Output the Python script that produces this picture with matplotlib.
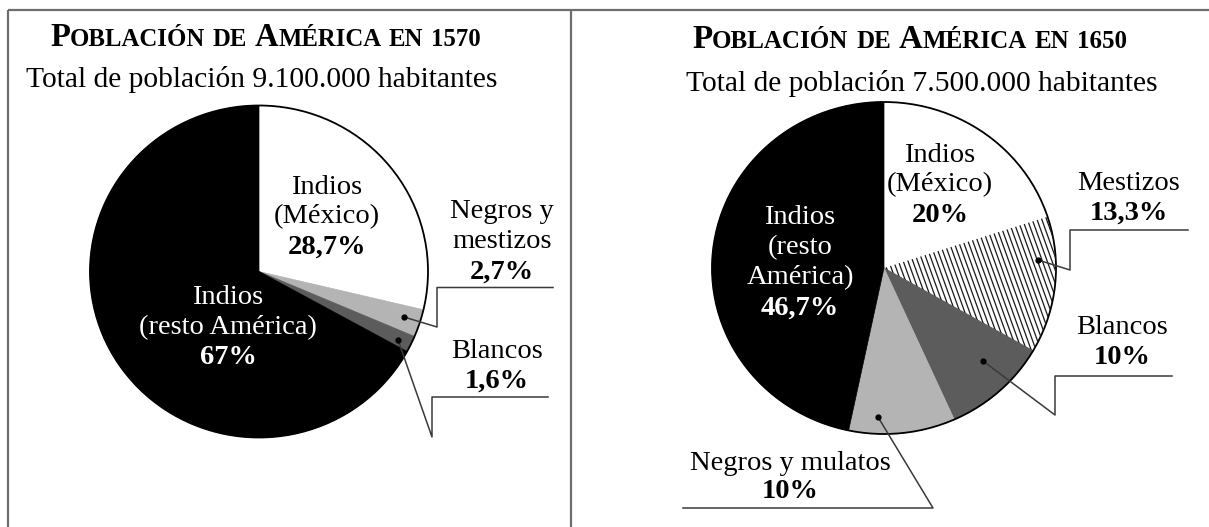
import numpy as np
import matplotlib
matplotlib.use("Agg")
import matplotlib.pyplot as plt
from matplotlib.patches import Ellipse

# Data
labels_1570 = ["Indios (México)", "Negros y mestizos", "Blancos", "Indios (resto América)"]
values_1570 = [28.7, 2.7, 1.6, 67.0]
lines_1570 = [["Indios", "(México)"], ["Negros y", "mestizos"], ["Blancos"], ["Indios", "(resto América)"]]
total_1570 = "9.100.000"

labels_1650 = ["Indios (México)", "Mestizos", "Blancos", "Negros y mulatos", "Indios (resto América)"]
values_1650 = [20.0, 13.3, 10.0, 10.0, 46.7]
lines_1650 = [["Indios", "(México)"], ["Mestizos"], ["Blancos"], ["Negros y mulatos"], ["Indios", "(resto", "América)"]]
total_1650 = "7.500.000"

W, H = 1209, 527
SERIF = "Liberation Serif"

fig = plt.figure(figsize=(W / 100, H / 100), dpi=100)
fig.patch.set_facecolor("white")


def pct(v):
    return f"{v:g}".replace(".", ",") + "%"


def draw_pie(cx, cy, rx, ry, values, colors):
    ax = fig.add_axes([(cx - rx) / W, 1 - (cy + ry) / H, 2 * rx / W, 2 * ry / H])
    wedges, _ = ax.pie(values, colors=colors, startangle=90, counterclock=False,
                       radius=1, wedgeprops=dict(linewidth=0))
    for w in wedges:
        w.set_edgecolor(w.get_facecolor())
        w.set_linewidth(0.5)
    ax.set_aspect("auto")
    ax.set_xlim(-1, 1)
    ax.set_ylim(-1, 1)
    ax.axis("off")
    ax.add_patch(Ellipse((0, 0), 2, 2, fill=False, lw=1.3, ec="black", clip_on=False))
    return ax, wedges


# pies
ax1, w1 = draw_pie(259, 271.5, 169, 166, values_1570, ["white", "#b4b4b4", "#5c5c5c", "black"])
ax2, w2 = draw_pie(884, 268, 172, 166, values_1650, ["white", "white", "#5c5c5c", "#b4b4b4", "black"])

# overlay in pixel coordinates
ov = fig.add_axes([0, 0, 1, 1])
ov.set_xlim(0, W)
ov.set_ylim(H, 0)
ov.axis("off")
ov.patch.set_alpha(0)

renderer = fig.canvas.get_renderer()

# hatching of the Mestizos slice
for x0 in np.arange(640, 1200, 4.8):
    ln, = ov.plot([x0, x0 + 0.36 * 360], [90, 450], color="#1a1a1a", lw=0.9)
    ln.set_clip_path(w2[1])

# frame lines
ov.plot([8, W], [10, 10], color="#6e6e6e", lw=1.6, solid_capstyle="butt")
ov.plot([8, 8], [10, H], color="#6e6e6e", lw=1.6, solid_capstyle="butt")
ov.plot([571, 571], [10, H], color="#6e6e6e", lw=1.6, solid_capstyle="butt")


def fit_text(x0, x1, y, s, **kw):
    t = ov.text(x0, y, s, fontsize=16, ha="left", va="baseline", family=SERIF, **kw)
    w = t.get_window_extent(renderer).width
    t.set_fontsize(16 * (x1 - x0) / w)
    return t


def caps_title(x0, x1, y, words):
    def draw(size):
        arts = []
        x = x0
        for word in words:
            for s, big in word:
                t = ov.text(x, y, s, fontsize=size * (1.0 if big else 0.76),
                            fontweight="bold", family=SERIF, ha="left", va="baseline")
                x += t.get_window_extent(renderer).width
                arts.append(t)
            x += size * 0.32
        return arts, x - size * 0.32 - x0
    arts, w = draw(18)
    for a in arts:
        a.remove()
    draw(18 * (x1 - x0) / w)


def title_words(year):
    return [[("P", True), ("OBLACIÓN", False)], [("DE", False)],
            [("A", True), ("MÉRICA", False)], [("EN", False)], [(year, False)]]


caps_title(50, 480, 46, title_words("1570"))
fit_text(26, 498, 87, f"Total de población {total_1570} habitantes")
caps_title(692, 1126, 48, title_words("1650"))
fit_text(686, 1158, 91, f"Total de población {total_1650} habitantes")


def put_label(x, ys, lines, value, color="black", size=20.5):
    for s, y in zip(lines, ys[:-1]):
        ov.text(x, y, s, ha="center", va="center", family=SERIF, fontsize=size, color=color)
    ov.text(x, ys[-1], pct(value), ha="center", va="center", family=SERIF,
            fontsize=size, fontweight="bold", color=color)


def leader(points, dot):
    xs, ys = zip(*points)
    ov.plot(xs, ys, color="#3a3a3a", lw=1.1)
    ov.plot([dot[0]], [dot[1]], "o", color="black", ms=3.5)


# labels 1570
put_label(327, [187, 217, 247], lines_1570[0], values_1570[0])
put_label(502, [212, 242, 272], lines_1570[1], values_1570[1])
put_label(497, [352, 381], lines_1570[2], values_1570[2])
put_label(228, [298, 328, 358], lines_1570[3], values_1570[3], color="white")
leader([(553, 287.5), (437, 287.5), (437, 327), (404, 317)], (404, 317))
leader([(548, 397), (432, 397), (432, 437), (398, 340)], (398, 340))

# labels 1650
put_label(940, [155, 185, 215], lines_1650[0], values_1650[0])
put_label(1129, [183, 213], lines_1650[1], values_1650[1])
put_label(1122, [327, 357], lines_1650[2], values_1650[2])
put_label(790, [463, 492], lines_1650[3], values_1650[3])
put_label(800, [218, 248, 278, 308], lines_1650[4], values_1650[4], color="white")
leader([(1188, 230), (1070, 230), (1070, 270), (1038, 260)], (1038, 260))
leader([(1172, 376), (1055, 376), (1055, 415), (983, 361)], (983, 361))
leader([(683, 508), (933, 508), (878, 417)], (878, 417))

fig.savefig("out.png", dpi=100)
